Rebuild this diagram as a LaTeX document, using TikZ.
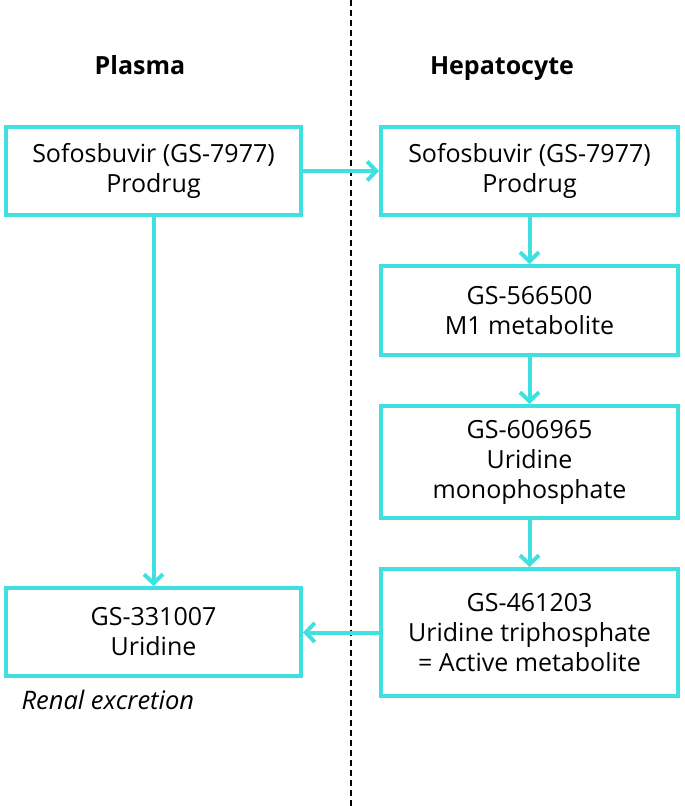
\documentclass[tikz,border=0pt]{standalone}
\usepackage{fontspec}
\setmainfont{Open Sans}
\usetikzlibrary{arrows.meta}
\definecolor{turq}{RGB}{64,224,224}
\begin{document}
\begin{tikzpicture}[x=1pt,y=-1pt,
  box/.style={draw=turq,line width=4pt,fill=white,align=center,inner sep=0pt,font=\fontsize{25}{30}\selectfont},
  hdr/.style={anchor=base,font=\fontsize{25}{30}\selectfont\bfseries},
  conn/.style={draw=turq,line width=4pt,-{Straight Barb[length=9pt,width=19pt,line width=4pt]},line cap=round}]
\useasboundingbox (0,0) rectangle (685,806);
\draw[dashed,line width=1.2pt,dash pattern=on 6pt off 4pt] (351,0) -- (351,806);
\node[hdr] (plasma) at (140,74) {Plasma};
\node[hdr] (hep) at (502,74) {Hepatocyte};
\node[box,minimum width=295pt,minimum height=88pt] (s1) at (153.5,171) {Sofosbuvir (GS-7977)\\Prodrug};
\node[box,minimum width=297pt,minimum height=88pt] (h1) at (529.5,171) {Sofosbuvir (GS-7977)\\Prodrug};
\node[box,minimum width=297pt,minimum height=89pt] (h2) at (529.5,310.5) {GS-566500\\M1 metabolite};
\node[box,minimum width=297pt,minimum height=112pt] (h3) at (529.5,462) {GS-606965\\Uridine\\monophosphate};
\node[box,minimum width=297pt,minimum height=127pt] (h4) at (529.5,632.5) {GS-461203\\Uridine triphosphate\\= Active metabolite};
\node[box,minimum width=295pt,minimum height=88pt] (s2) at (153.5,632) {GS-331007\\Uridine};
\node[anchor=base west,font=\fontsize{25.5}{30}\itshape\selectfont] (renal) at (18,709) {Renal excretion};
\draw[conn] (s1.east) -- (h1.west);
\draw[conn] (s1.south) -- (s2.north);
\draw[conn] (h1.south) -- (h2.north);
\draw[conn] (h2.south) -- (h3.north);
\draw[conn] (h3.south) -- (h4.north);
\draw[conn] (h4.west) -- (h4.west -| s2.east);
\end{tikzpicture}
\end{document}
